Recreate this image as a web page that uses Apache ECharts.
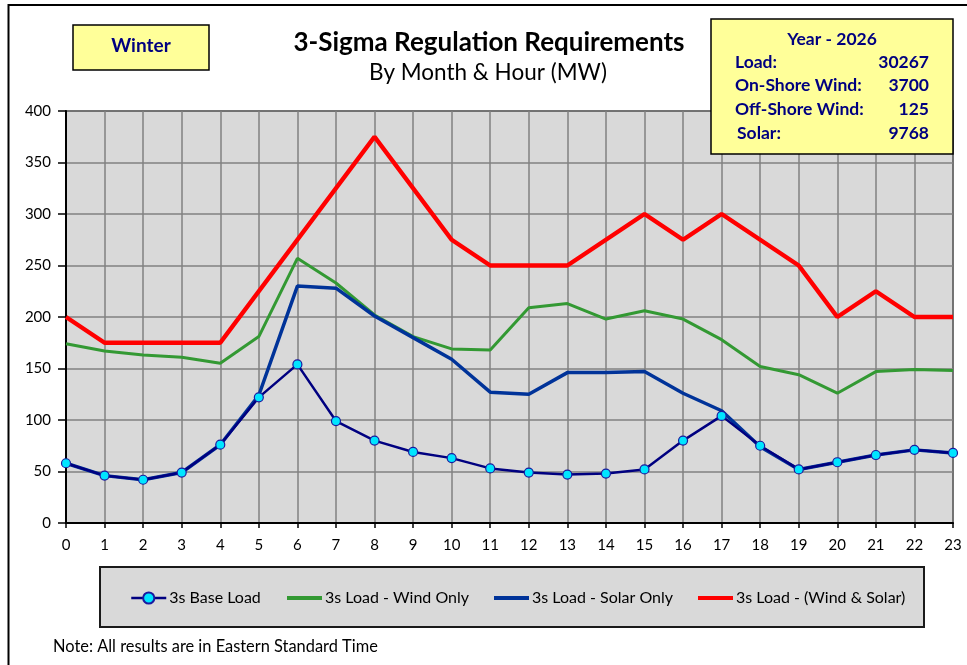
<!DOCTYPE html>
<html><head><meta charset="utf-8">
<script src="https://cdn.jsdelivr.net/npm/echarts@6/dist/echarts.min.js"></script>
<style>html,body{margin:0;padding:0;background:#fff}#c{width:967px;height:665px}</style>
</head><body><div id="c"></div>
<script>
const hours = ['0','1','2','3','4','5','6','7','8','9','10','11','12','13','14','15','16','17','18','19','20','21','22','23'];
const yTicks = [0,50,100,150,200,250,300,350,400];
const baseLoad = [58,46,42,49,76,122,154,99,80,69,63,53,49,47,48,52,80,104,75,52,59,66,71,68];
const windOnly = [174,167,163,161,155,181,257,233,202,181,169,168,209,213,198,206,198,178,152,144,126,147,149,148];
const solarOnly = [58,46,42,49,76,124,230,228,201,180,159,127,125,146,146,147,126,109,74,52,59,66,71,68];
const windSolar = [200,175,175,175,175,225,275,325,375,325,275,250,250,250,275,300,275,300,275,250,200,225,200,200];
const seriesNames = ['3s Base Load','3s Load - Wind Only','3s Load - Solar Only','3s Load - (Wind & Solar)'];
const infoLabels = ['Load:','On-Shore Wind:','Off-Shore Wind:','Solar:'];
const infoValues = ['30267','3700','125','9768'];

const FONT = 'Lato, "Open Sans", sans-serif';
const NAVY = '#000080';
const chart = echarts.init(document.getElementById('c'));

const legendX = [125, 280, 487, 691];
const legends = seriesNames.map((n, i) => ({
  data: [n], left: legendX[i], top: 585, itemWidth: 35, itemHeight: 14, itemGap: 0,
  textStyle: {fontFamily: FONT, fontSize: 16, color: '#000', padding: [0,0,0,-2]},
  itemStyle: i === 0 ? {} : {opacity: 0},
  lineStyle: {width: i === 0 ? 2.5 : 4},
  selectedMode: false
}));

const infoRows = [];
infoLabels.forEach((l, i) => {
  const y = 62 + i * 23.7;
  infoRows.push({type:'text', z: 10,
    style:{x: i===3 ? 737 : 735, y: y, text:l, fontFamily: FONT, fontWeight:'bold', fontSize:17.5, fill: NAVY, align:'left', verticalAlign:'middle'}});
  infoRows.push({type:'text', z: 10,
    style:{x: 929, y: y, text:infoValues[i], fontFamily: FONT, fontWeight:'bold', fontSize:17.5, fill: NAVY, align:'right', verticalAlign:'middle'}});
});

chart.setOption({
  animation: false,
  backgroundColor: '#fff',
  grid: {left: 66, right: 14, top: 111, bottom: 142, show: true, backgroundColor: '#D9D9D9', borderColor: '#1a1a1a', borderWidth: 1.5},
  legend: legends,
  xAxis: {
    type: 'category', data: hours, boundaryGap: false,
    axisLine: {lineStyle: {color: '#000', width: 2}},
    axisTick: {show: true, length: 5, alignWithLabel: true, lineStyle: {color: '#000', width: 1.5}},
    axisLabel: {fontFamily: FONT, fontSize: 15, color: '#000', margin: 15, interval: 0},
    splitLine: {show: true, lineStyle: {color: '#808080', width: 1.5}}
  },
  yAxis: {
    type: 'value', min: yTicks[0], max: yTicks[yTicks.length-1], interval: yTicks[1]-yTicks[0],
    axisLine: {show: true, lineStyle: {color: '#000', width: 2}},
    axisTick: {show: true, length: 8, lineStyle: {color: '#000', width: 1.5}},
    axisLabel: {fontFamily: FONT, fontSize: 15, color: '#000', margin: 15},
    splitLine: {show: true, lineStyle: {color: '#808080', width: 1.5}}
  },
  series: [
    {name: seriesNames[0], type: 'line', data: baseLoad, z: 5, symbol: 'circle', symbolSize: 9,
      lineStyle: {color: NAVY, width: 2.5}, itemStyle: {color: '#00E5FF', borderColor: '#1a1aa0', borderWidth: 1.2}},
    {name: seriesNames[1], type: 'line', data: windOnly, z: 2, symbol: 'none',
      lineStyle: {color: '#339933', width: 3}, itemStyle: {color: '#339933'}},
    {name: seriesNames[2], type: 'line', data: solarOnly, z: 3, symbol: 'none',
      lineStyle: {color: '#003399', width: 3.5}, itemStyle: {color: '#003399'}},
    {name: seriesNames[3], type: 'line', data: windSolar, z: 4, symbol: 'none',
      lineStyle: {color: '#FF0000', width: 4.5}, itemStyle: {color: '#FF0000'}}
  ],
  graphic: [
    {type:'rect', shape:{x:8.5, y:5, width:1000, height:700}, style:{fill:'none', stroke:'#000', lineWidth:2}, z: -10, silent:true},
    {type:'rect', shape:{x:100, y:567, width:824, height:60}, style:{fill:'#D9D9D9', stroke:'#1a1a1a', lineWidth:2}, z: -5, silent:true},
    {type:'rect', shape:{x:73, y:25, width:136, height:45}, style:{fill:'#FFFF99', stroke:'#000', lineWidth:1.5}, z: 5},
    {type:'text', z: 6, style:{x: 141, y: 46, text:'Winter', fontFamily: FONT, fontWeight:'bold', fontSize:19, fill: NAVY, align:'center', verticalAlign:'middle'}},
    {type:'rect', shape:{x:711, y:19, width:242, height:135}, style:{fill:'#FFFF99', stroke:'#000', lineWidth:1.5}, z: 9},
    {type:'text', z: 10, style:{x: 832, y: 39, text:'Year - 2026', fontFamily: FONT, fontWeight:'bold', fontSize:17.5, fill: NAVY, align:'center', verticalAlign:'middle'}},
    ...infoRows,
    {type:'text', z: 6, style:{x: 489, y: 43, text:'3-Sigma Regulation Requirements', fontFamily: FONT, fontWeight:'bold', fontSize:26, fill:'#000', align:'center', verticalAlign:'middle'}},
    {type:'text', z: 6, style:{x: 488, y: 73, text:'By Month & Hour (MW)', fontFamily: FONT, fontSize:22.5, fill:'#000', align:'center', verticalAlign:'middle'}},
    {type:'text', z: 6, style:{x: 53, y: 647, text:'Note: All results are in Eastern Standard Time', fontFamily: FONT, fontSize:16.4, fill:'#000', align:'left', verticalAlign:'middle'}}
  ]
});
</script></body></html>
